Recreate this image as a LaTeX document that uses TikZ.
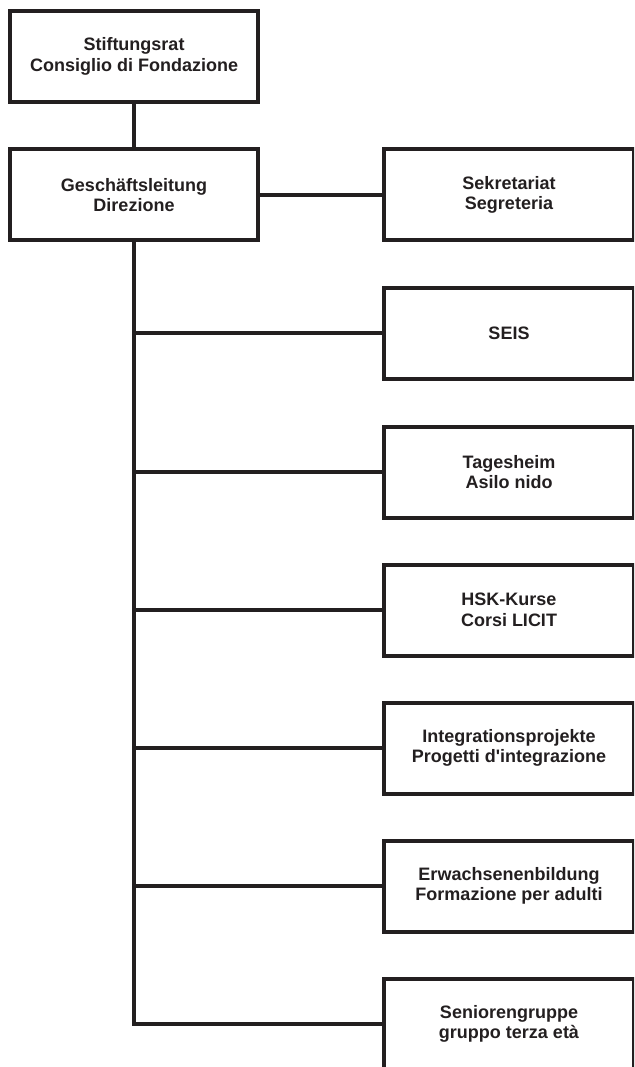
\documentclass[tikz,border=0pt]{standalone}
\usepackage{fontspec}
\setmainfont{Liberation Sans}[Ligatures=TeXOff]
\definecolor{ink}{HTML}{231F20}
\begin{document}
\begin{tikzpicture}[x=1pt,y=-1pt,
  box/.style={draw=ink, line width=4pt, rectangle, minimum width=248pt, minimum height=91pt,
    inner sep=0pt, align=center, text=ink, font=\fontsize{18}{20.5}\selectfont\bfseries},
  rbox/.style={box, minimum width=250pt},
  link/.style={draw=ink, line width=4pt}]
\useasboundingbox (0,0) rectangle (634,1067);
\clip (0,0) rectangle (634,1067);
\node[box] (rat) at (134,56.5) {Stiftungsrat\\Consiglio di Fondazione};
\node[box] (gl) at (134,195) {Geschäftsleitung\\Direzione};
\node[rbox] (sek) at (509,195) {Sekretariat\\Segreteria};
\node[rbox] (seis) at (509,333) {SEIS};
\node[rbox] (tag) at (509,472) {Tagesheim\\Asilo nido};
\node[rbox] (hsk) at (509,610) {HSK-Kurse\\Corsi LICIT};
\node[rbox] (int) at (509,748) {Integrationsprojekte\\Progetti d'integrazione};
\node[rbox] (erw) at (509,886) {Erwachsenenbildung\\Formazione per adulti};
\node[rbox] (sen) at (509,1024) {Seniorengruppe\\gruppo terza età};
\draw[link] (rat.south) -- (gl.north);
\draw[link] (gl.east) -- (sek.west);
\coordinate (corner) at (gl.south |- sen.west);
\draw[link] (gl.south) -- (corner) -- (sen.west);
\draw[link] (gl.south |- seis.west) -- (seis.west);
\draw[link] (gl.south |- tag.west) -- (tag.west);
\draw[link] (gl.south |- hsk.west) -- (hsk.west);
\draw[link] (gl.south |- int.west) -- (int.west);
\draw[link] (gl.south |- erw.west) -- (erw.west);
\end{tikzpicture}
\end{document}
